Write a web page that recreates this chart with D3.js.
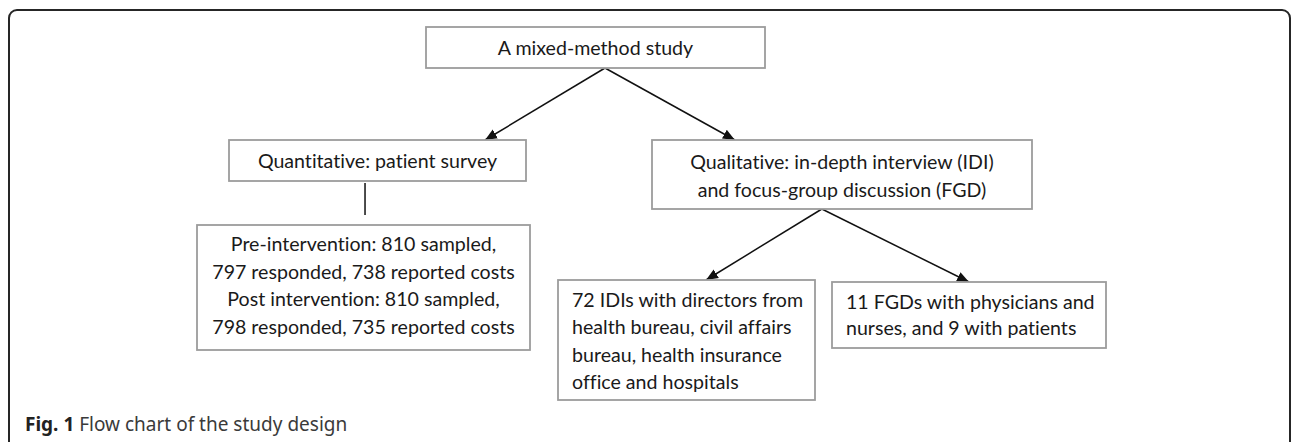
<!DOCTYPE html>
<html>
<head>
<meta charset="utf-8">
<script src="https://cdn.jsdelivr.net/npm/d3@7"></script>
<style>
  body { margin: 0; background: #fff; }
  svg { display: block; }
  text { font-variant-ligatures: none; }
</style>
</head>
<body>
<div id="chart"></div>
<script>
// boxes of the flow chart, text lines only
var nodeIds = ["root", "quant", "qual", "survey", "idi", "fgd"];
var nodeLines = [
    ["A mixed-method study"],
    ["Quantitative: patient survey"],
    ["Qualitative: in-depth interview (IDI)", "and focus-group discussion (FGD)"],
    ["Pre-intervention: 810 sampled,", "797 responded, 738 reported costs",
     "Post intervention: 810 sampled,", "798 responded, 735 reported costs"],
    ["72 IDIs with directors from", "health bureau, civil affairs",
     "bureau, health insurance", "office and hospitals"],
    ["11 FGDs with physicians and", "nurses, and 9 with patients"]
];
// connections: source, target, kind
var linkFrom = ["root", "root", "quant", "qual", "qual"];
var linkTo   = ["quant", "qual", "survey", "idi", "fgd"];
var linkKind = ["arrow", "arrow", "line", "arrow", "arrow"];

var captionBold = "Fig. 1";
var captionText = " Flow chart of the study design";

// layout (positions / sizes only)
var W = 1292, H = 442;
var layout = {
    root:   {x: 426, y: 27,  w: 339, h: 41,  align: "middle", top: 21, step: 28, out: 0.528},
    quant:  {x: 229, y: 140, w: 297, h: 41,  align: "middle", top: 21, step: 28, out: 0.458, inn: 0.862},
    qual:   {x: 652, y: 140, w: 380, h: 69,  align: "middle", top: 22, step: 28, out: 0.447, inn: 0.218},
    survey: {x: 197, y: 225, w: 333, h: 125, align: "middle", top: 19, step: 27.7, inn: 0.505},
    idi:    {x: 558, y: 280, w: 257, h: 120, align: "start",  top: 20, step: 27.4, inn: 0.576, pad: 14},
    fgd:    {x: 832, y: 282, w: 274, h: 66,  align: "start",  top: 20, step: 26.5, inn: 0.5, pad: 14}
};

var svg = d3.select("#chart").append("svg")
    .attr("width", W)
    .attr("height", H);

// outer frame with rounded top corners
var r = 8, fx0 = 9, fx1 = 1290, fy = 10;
var frame = d3.path();
frame.moveTo(fx0, H + 5);
frame.lineTo(fx0, fy + r);
frame.arcTo(fx0, fy, fx0 + r, fy, r);
frame.lineTo(fx1 - r, fy);
frame.arcTo(fx1, fy, fx1, fy + r, r);
frame.lineTo(fx1, H + 5);
svg.append("path")
    .attr("d", frame.toString())
    .attr("fill", "none")
    .attr("stroke", "#262626")
    .attr("stroke-width", 2);

svg.append("defs").append("marker")
    .attr("id", "head")
    .attr("viewBox", "0 0 10 10")
    .attr("refX", 10)
    .attr("refY", 5)
    .attr("markerUnits", "userSpaceOnUse")
    .attr("markerWidth", 12)
    .attr("markerHeight", 12)
    .attr("orient", "auto")
    .append("path")
    .attr("d", "M0,0.8 L10,5 L0,9.2 Z")
    .attr("fill", "#111");

var nodes = nodeIds.map(function (id, i) {
    return Object.assign({id: id, lines: nodeLines[i]}, layout[id]);
});

var byId = {};
nodes.forEach(function (n) { byId[n.id] = n; });

// links
var links = linkFrom.map(function (s, i) {
    var a = byId[s], b = byId[linkTo[i]];
    var plain = linkKind[i] === "line";
    return {
        x1: a.x + a.w * a.out,
        y1: a.y + a.h + (plain ? 2 : 0),
        x2: b.x + b.w * b.inn,
        y2: b.y - (plain ? 10 : 0),
        kind: linkKind[i]
    };
});

svg.selectAll(".link")
    .data(links)
    .enter()
    .append("line")
    .attr("class", "link")
    .attr("x1", function (d) { return d.x1; })
    .attr("y1", function (d) { return d.y1; })
    .attr("x2", function (d) { return d.kind === "line" ? d.x1 : d.x2; })
    .attr("y2", function (d) { return d.y2; })
    .attr("stroke", "#111")
    .attr("stroke-width", 1.5)
    .attr("marker-end", function (d) { return d.kind === "arrow" ? "url(#head)" : null; });

// boxes
var g = svg.selectAll(".node")
    .data(nodes)
    .enter()
    .append("g")
    .attr("class", "node")
    .attr("transform", function (d) { return "translate(" + d.x + "," + d.y + ")"; });

g.append("rect")
    .attr("width", function (d) { return d.w; })
    .attr("height", function (d) { return d.h; })
    .attr("fill", "#fff")
    .attr("stroke", "#9c9c9c")
    .attr("stroke-width", 1.8);

g.each(function (d) {
    var tx = d.align === "middle" ? d.w / 2 : d.pad;
    d3.select(this).selectAll("text")
        .data(d.lines)
        .enter()
        .append("text")
        .attr("x", tx)
        .attr("y", function (t, i) { return d.top + i * d.step; })
        .attr("dy", "0.35em")
        .attr("text-anchor", d.align)
        .style("font-family", "Lato, 'Open Sans', sans-serif")
        .style("font-size", "19.6px")
        .style("fill", "#1a1a1a")
        .text(function (t) { return t; });
});

// caption
var cap = svg.append("text")
    .attr("x", 25)
    .attr("y", 431)
    .style("font-family", "'Noto Sans', 'Liberation Sans', sans-serif")
    .style("font-size", "19px")
    .style("fill", "#3a3a3a");
cap.append("tspan").style("font-weight", "bold").style("fill", "#222").text(captionBold);
cap.append("tspan").text(captionText);
</script>
</body>
</html>
